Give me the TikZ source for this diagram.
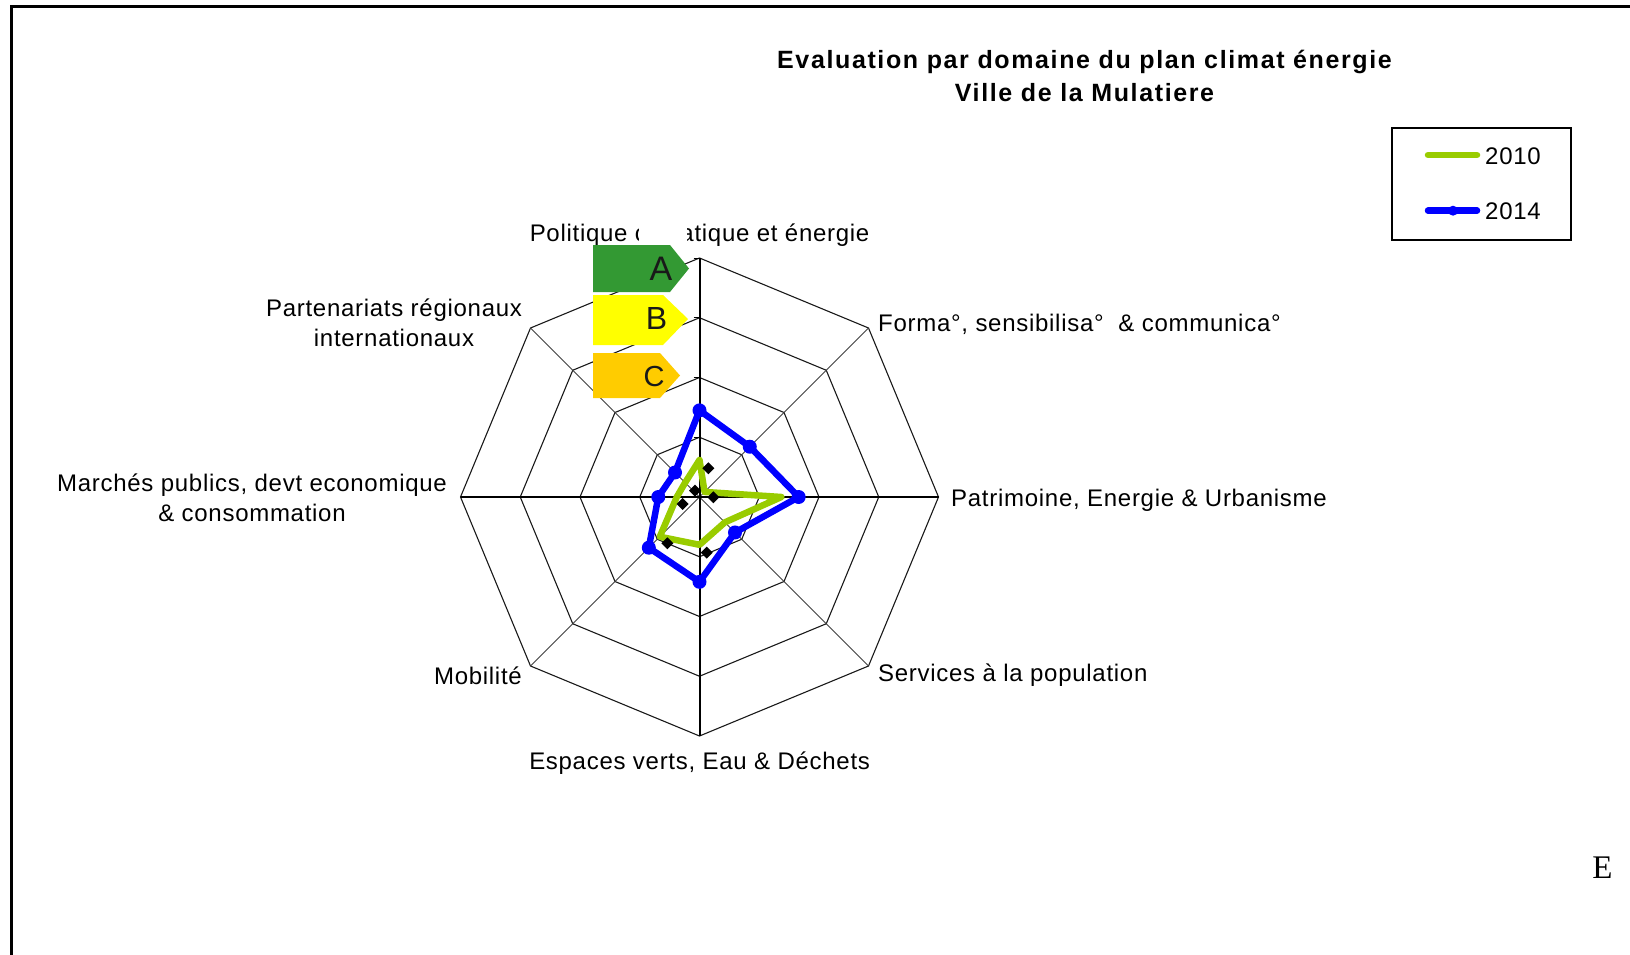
\documentclass[tikz,border=0pt]{standalone}
\usepackage{fontspec}
\newfontfamily\chartfont{Liberation Sans}[LetterSpace=3]
\newfontfamily\titlefont{Liberation Sans}[LetterSpace=6.5]
\newfontfamily\pagefont{Liberation Serif}
\definecolor{green2010}{RGB}{153,204,0}
\definecolor{blue2014}{RGB}{0,0,255}
\definecolor{classA}{RGB}{51,153,51}
\definecolor{classB}{RGB}{255,255,0}
\definecolor{classC}{RGB}{255,204,0}
\tikzset{
  axislabel/.style={font=\chartfont\fontsize{24}{29.5}\selectfont, inner sep=0pt, align=center},
  charttitle/.style={font=\titlefont\bfseries\fontsize{25}{33.5}\selectfont, inner sep=0pt, align=center},
  ring/.style={line width=1.1pt, black!90},
  spoke/.style={line width=0.9pt, black!75},
  mainaxis/.style={line width=2pt, black},
  serie2010/.style={line width=6.5pt, green2010, line join=round, line cap=round},
  serie2014/.style={line width=6.5pt, blue2014, line join=round, line cap=round},
  classletter/.style={font=\chartfont, inner sep=0pt, text=black!90}
}
\newcommand{\unitr}{59.75}
\begin{document}
\begin{tikzpicture}[x=1pt,y=-1pt]
\useasboundingbox (0,0) rectangle (1630,955);
\draw[line width=3pt] (11,955) -- (11,6.5) -- (1630,6.5);
\node[charttitle] (title) at (1084.5,76) {Evaluation par domaine du plan climat énergie\\Ville de la Mulatiere};

\begin{scope}[shift={(699.5,497)}]
\coordinate (O) at (0,0);
\foreach \k in {1,...,4}
  \draw[ring] (0:{\k*\unitr}) -- (45:{\k*\unitr}) -- (90:{\k*\unitr}) -- (135:{\k*\unitr}) -- (180:{\k*\unitr}) -- (225:{\k*\unitr}) -- (270:{\k*\unitr}) -- (315:{\k*\unitr}) -- cycle;
\foreach \a in {45,135,225,315}
  \draw[spoke] (O) -- (\a:{4*\unitr});
\draw[mainaxis] (-90:{4*\unitr}) -- (90:{4*\unitr});
\draw[mainaxis] (180:{4*\unitr}) -- (0:{4*\unitr});
\foreach \k in {1,...,4}
  \draw[line width=1pt] (-6,{-\k*\unitr}) -- (0,{-\k*\unitr});
\foreach \a/\v [count=\i] in {-90/0.62,-45/0.12,0/1.37,45/0.6,90/0.8,135/0.94,180/0.38,225/0.34}
  \coordinate (g\i) at (\a:{\v*\unitr});
\foreach \a/\v [count=\i] in {-90/1.45,-45/1.19,0/1.66,45/0.84,90/1.42,135/1.2,180/0.69,225/0.58}
  \coordinate (b\i) at (\a:{\v*\unitr});
\draw[serie2010] (g1) -- (g2) -- (g3) -- (g4) -- (g5) -- (g6) -- (g7) -- (g8) -- cycle;
\draw[serie2014] (b1) -- (b2) -- (b3) -- (b4) -- (b5) -- (b6) -- (b7) -- (b8) -- cycle;
\foreach \i in {1,...,8}
  \fill[blue2014] (b\i) circle (7);
\end{scope}

\foreach \x/\y in {708.3/468.3,695/490.7,713.3/497.3,682.7/504,667.3/543.3,706.7/552.7}
  \fill[black] (\x,\y-6) -- (\x+6,\y) -- (\x,\y+6) -- (\x-6,\y) -- cycle;

\node[axislabel] (politique) at (699.6,235) {Politique climatique et énergie};
\fill[white] (639,222) rectangle (687,247);
\node[axislabel, anchor=west] (forma) at (878,324) {Forma°, sensibilisa°\ \ \& communica°};
\node[axislabel, anchor=west] (patrimoine) at (951,500) {Patrimoine, Energie \& Urbanisme};
\node[axislabel, anchor=west] (services) at (878,675.5) {Services à la population};
\node[axislabel] (espaces) at (699.6,763.5) {Espaces verts, Eau \& Déchets};
\node[axislabel, anchor=east] (mobilite) at (522,675.5) {Mobilité};
\node[axislabel] (marches) at (252,498) {Marchés publics, devt economique\\\& consommation};
\node[axislabel] (partenariats) at (394,323) {Partenariats régionaux\\internationaux};

\fill[classA] (593,245) -- (670,245) -- (689,268.5) -- (670,292) -- (593,292) -- cycle;
\fill[classB] (593,295) -- (663,295) -- (688,319) -- (663,345) -- (593,345) -- cycle;
\fill[classC] (593,353) -- (660,353) -- (680,375.5) -- (660,398) -- (593,398) -- cycle;
\node[classletter, font=\chartfont\fontsize{34}{34}\selectfont] (tagA) at (661,269) {A};
\node[classletter, font=\chartfont\fontsize{32}{32}\selectfont] (tagB) at (656.5,318.5) {B};
\node[classletter, font=\chartfont\fontsize{29}{29}\selectfont] (tagC) at (654,376.5) {C};

\draw[line width=1.2pt] (1392,128) rectangle (1571,240);
\node[axislabel, anchor=west] (leg2010) at (1485,156) {2010};
\node[axislabel, anchor=west] (leg2014) at (1485,211.5) {2014};
\coordinate (l10a) at (1428,155);
\coordinate (l10b) at (1477,155);
\coordinate (l14a) at (1428,210.7);
\coordinate (l14b) at (1477,210.7);
\draw[serie2010] (l10a) -- (l10b);
\draw[serie2014] (l14a) -- (l14b);
\fill[blue2014] (1453,210.7) circle (5);

\node[font=\pagefont\fontsize{33}{33}\selectfont, inner sep=0pt] (pageE) at (1602.5,868) {E};
\end{tikzpicture}
\end{document}
